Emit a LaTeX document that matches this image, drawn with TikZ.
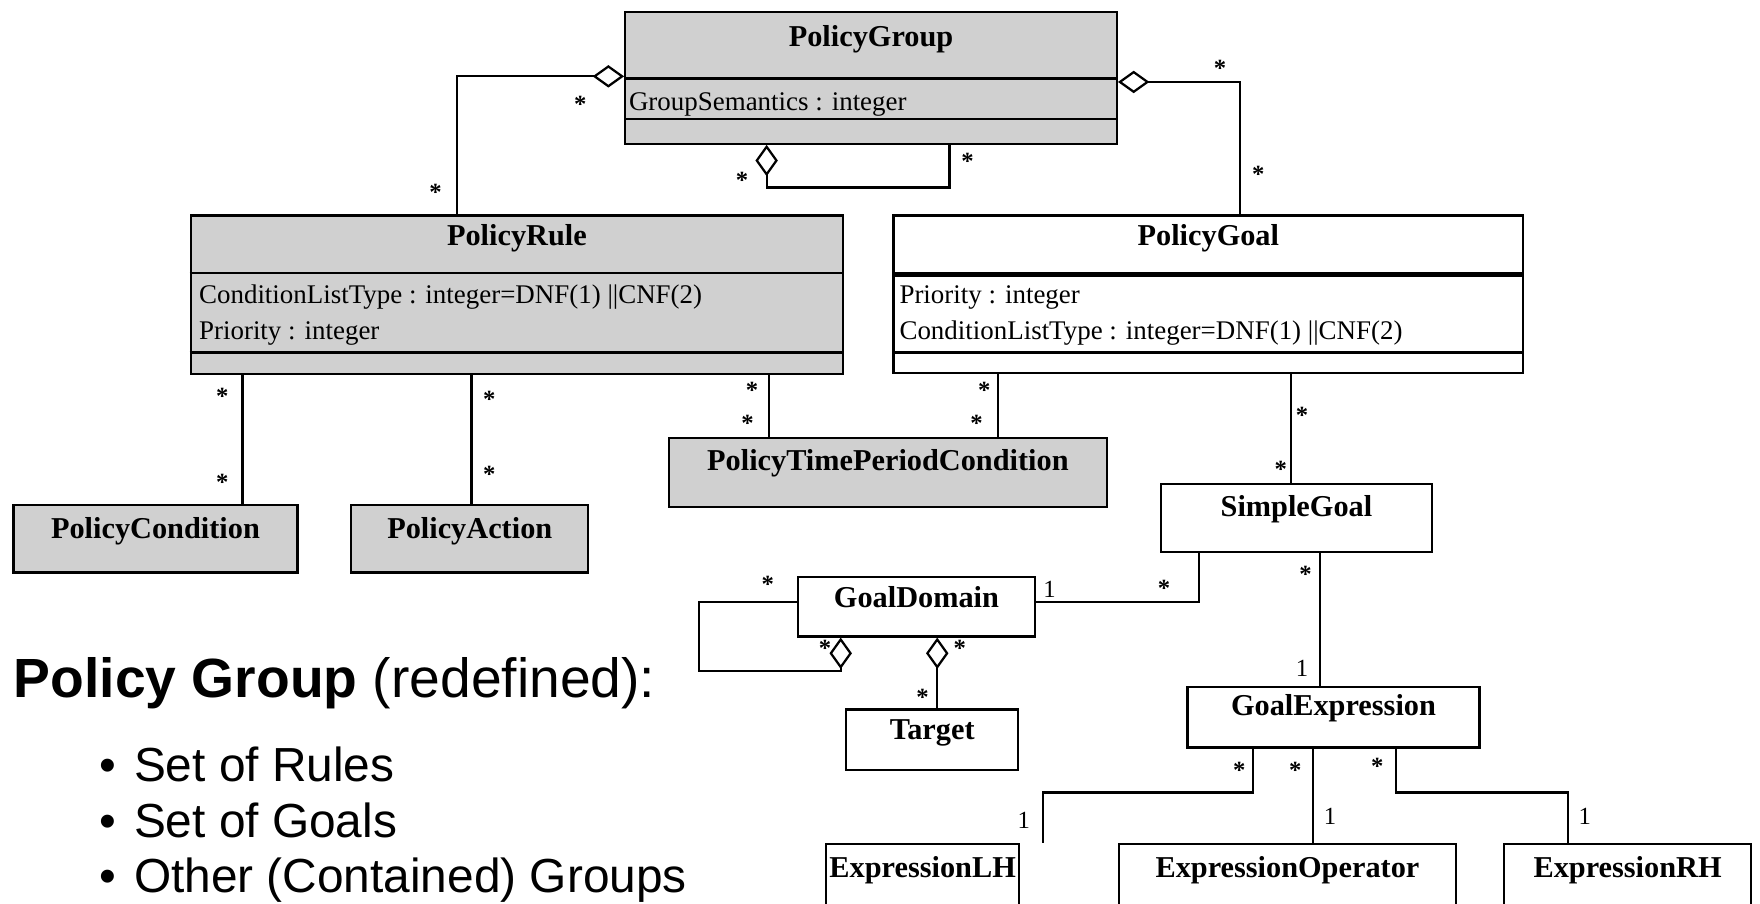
\documentclass[tikz,border=0pt]{standalone}
\usepackage{fontspec}
\setmainfont{Liberation Serif}
\newfontfamily\slidefont{Liberation Sans}
\usetikzlibrary{arrows.meta,fit}

\definecolor{clsgray}{RGB}{208,208,208}

\tikzset{
  cls/.style={draw=black, line width=1pt, inner sep=0pt},
  grayfill/.style={fill=clsgray},
  clsname/.style={font=\fontsize{13.5}{16}\selectfont\bfseries, inner sep=0pt},
  attr/.style={font=\fontsize{12}{14}\selectfont, inner sep=0pt, anchor=west},
  starlbl/.style={font=\fontsize{11}{12}\selectfont\bfseries, inner sep=0pt, yshift=-1.5pt},
  onelbl/.style={font=\fontsize{11}{12}\selectfont, inner sep=0pt},
  conn/.style={draw=black, line width=1pt},
  agg/.style={conn, -{Diamond[open, length=14pt, width=10pt, line width=1pt]}},
  sep/.style={draw=black, line width=1pt},
  headline/.style={font=\slidefont\fontsize{24.6}{28}\selectfont, inner sep=0pt, anchor=base west},
  bulletline/.style={font=\slidefont\fontsize{21.3}{25}\selectfont, inner sep=0pt, anchor=base west},
  bulletdot/.style={font=\slidefont\fontsize{21.3}{25}\selectfont, inner sep=0pt, anchor=base},
}

\begin{document}
\begin{tikzpicture}[x=0.5pt, y=-0.5pt]
\clip (0,0) rectangle (1568,805);
\fill[white] (0,0) rectangle (1568,805);

% ---------- class boxes ----------
\node[cls, grayfill, fit={(557,11) (995,128)}] (pg) {};
\draw[sep] (pg.west |- 0,70) -- (pg.east |- 0,70);
\draw[sep] (pg.west |- 0,106) -- (pg.east |- 0,106);
\node[clsname] (pgT) at (pg.north |- 0,35) {PolicyGroup};
\node[attr] (pgA) at (560,93) {GroupSemantics : integer};

\node[cls, grayfill, fit={(170,192) (751,333)}] (pr) {};
\draw[sep] (pr.west |- 0,243) -- (pr.east |- 0,243);
\draw[sep] (pr.west |- 0,314) -- (pr.east |- 0,314);
\node[clsname] (prT) at (pr.north |- 0,212) {PolicyRule};
\node[attr] (prA) at (177,265) {ConditionListType : integer=DNF(1) ||CNF(2)};
\node[attr] (prB) at (177,297) {Priority : integer};

\node[cls, fit={(796,192) (1357,332)}] (pgl) {};
\draw[sep, line width=2.2pt] (pgl.west |- 0,244.5) -- (pgl.east |- 0,244.5);
\draw[sep] (pgl.west |- 0,314) -- (pgl.east |- 0,314);
\node[clsname] (pglT) at (pgl.north |- 0,212) {PolicyGoal};
\node[attr] (pglA) at (801,265) {Priority : integer};
\node[attr] (pglB) at (801,297) {ConditionListType : integer=DNF(1) ||CNF(2)};

\node[cls, grayfill, fit={(12,450) (265,510)}] (pc) {};
\node[clsname] (pcT) at (pc.north |- 0,473) {PolicyCondition};

\node[cls, grayfill, fit={(313,450) (524,510)}] (pa) {};
\node[clsname] (paT) at (pa.north |- 0,473) {PolicyAction};

\node[cls, grayfill, fit={(596,390) (986,452)}] (ptp) {};
\node[clsname] (ptpT) at (ptp.north |- 0,413) {PolicyTimePeriodCondition};

\node[cls, fit={(1034,431) (1276,492)}] (sg) {};
\node[clsname] (sgT) at (sg.north |- 0,454) {SimpleGoal};

\node[cls, fit={(711,514) (922,567)}] (gd) {};
\node[clsname] (gdT) at (gd.north |- 0,532) {GoalDomain};

\node[cls, fit={(754,632) (907,686)}] (tg) {};
\node[clsname] (tgT) at (tg.north |- 0,653) {Target};

\node[cls, fit={(1058,612) (1318,666)}] (ge) {};
\node[clsname] (geT) at (ge.north |- 0,631) {GoalExpression};

\node[cls, fit={(736,752) (908,830)}] (elh) {};
\node[clsname] (elhT) at (elh.north |- 0,775) {ExpressionLH};

\node[cls, fit={(997,752) (1297,830)}] (eop) {};
\node[clsname] (eopT) at (eop.north |- 0,775) {ExpressionOperator};

\node[cls, fit={(1340,752) (1560,830)}] (erh) {};
\node[clsname] (erhT) at (erh.north |- 0,775) {ExpressionRH};

% ---------- associations ----------
\draw[agg] (407,0 |- pr.north) |- (pg.west |- 0,68);
\draw[agg] (1105,0 |- pgl.north) |- (pg.east |- 0,73);
\draw[agg] (846,0 |- pg.south) -- (846,167) -| (683,0 |- pg.south);

\draw[conn] (216,0 |- pr.south) -- (216,0 |- pc.north);
\draw[conn] (420,0 |- pr.south) -- (420,0 |- pa.north);
\draw[conn] (685,0 |- pr.south) -- (685,0 |- ptp.north);
\draw[conn] (889,0 |- pgl.south) -- (889,0 |- ptp.north);
\draw[conn] (1150,0 |- pgl.south) -- (1150,0 |- sg.north);

\draw[conn] (1068,0 |- sg.south) |- (gd.east |- 0,536);
\draw[agg] (gd.west |- 0,536) -- (623,536) -- (623,598) -| (749,0 |- gd.south);
\draw[agg] (835,0 |- tg.north) -- (835,0 |- gd.south);
\draw[conn] (1176,0 |- sg.south) -- (1176,0 |- ge.north);

\draw[conn] (1116,0 |- ge.south) -- (1116,706) -| (929,0 |- elh.north);
\draw[conn] (1170,0 |- ge.south) -- (1170,0 |- eop.north);
\draw[conn] (1244,0 |- ge.south) -- (1244,706) -| (1397,0 |- erh.north);

% ---------- multiplicities ----------
\foreach \px/\py [count=\i] in {517/90, 388/168, 1087/58, 1121/152, 661/158, 862/141,
    198/350, 198/427, 436/353, 436/420, 670/345, 666/374, 877/345, 870/374,
    1160/367, 1141/415, 1037/521, 684/518, 735/575, 855/575, 822/618,
    1163/509, 1104/683, 1154/683, 1227/680}
  \node[starlbl] (star\i) at (\px,\py) {*};
\foreach \px/\py [count=\i] in {935/525, 1160/595, 912/731, 1185/727, 1412/727}
  \node[onelbl] (one\i) at (\px,\py) {1};

% ---------- slide text ----------
\node[headline] (hd) at (12,621) {\textbf{Policy Group} (redefined):};
\node[bulletdot] (d1) at (96,696) {\textbullet};
\node[bulletline] (b1) at (119,696) {Set of Rules};
\node[bulletdot] (d2) at (96,746) {\textbullet};
\node[bulletline] (b2) at (119,746) {Set of Goals};
\node[bulletdot] (d3) at (96,795) {\textbullet};
\node[bulletline] (b3) at (119,795) {Other (Contained) Groups};
\end{tikzpicture}
\end{document}
